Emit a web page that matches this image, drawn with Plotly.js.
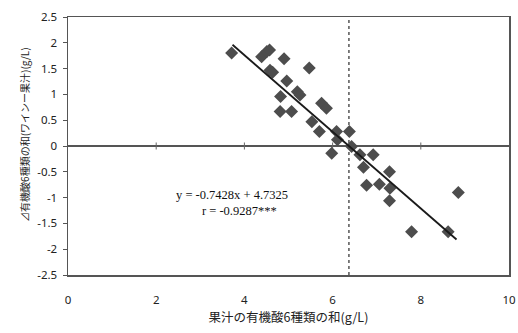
<!DOCTYPE html>
<html>
<head>
<meta charset="utf-8">
<script src="https://cdn.plot.ly/plotly-3.0.1.min.js"></script>
<style>html,body{margin:0;padding:0;background:#fff;}#chart{width:518px;height:333px;}</style>
</head>
<body>
<div id="chart"></div>
<script>
// Data
var juiceAcids = [3.71, 4.39, 4.51, 4.57, 4.90, 5.47, 4.58, 4.64, 4.96, 5.20, 5.26, 4.82, 4.81, 5.07, 5.75, 5.86, 5.53, 5.70, 6.09, 6.38, 6.11, 6.43, 5.98, 6.62, 6.92, 6.70, 7.29, 6.77, 7.06, 7.30, 7.29, 8.85, 7.79, 8.62];
var deltaAcids = [1.80, 1.73, 1.83, 1.86, 1.69, 1.51, 1.47, 1.43, 1.26, 1.05, 0.99, 0.96, 0.67, 0.67, 0.83, 0.73, 0.47, 0.28, 0.28, 0.28, 0.12, -0.01, -0.14, -0.17, -0.17, -0.41, -0.50, -0.76, -0.74, -0.82, -1.06, -0.90, -1.66, -1.66];
var slope = -0.7428;
var intercept = 4.7325;
var fitRangeX = [3.73, 8.81];
var meanX = [6.37, 6.37];
var meanLineY = [-2.5, 2.5];
var zeroTickX = [2, 4, 6, 8];
var zeroTickY = [0, 0, 0, 0];
var xTickVals = [0, 2, 4, 6, 8, 10];
var xTickText = ['0', '2', '4', '6', '8', '10'];
var yTickVals = [-2.5, -2, -1.5, -1, -0.5, 0, 0.5, 1, 1.5, 2, 2.5];
var yTickText = ['-2.5', '-2', '-1.5', '-1', '-0.5', '0', '0.5', '1', '1.5', '2', '2.5'];
var eqText = "y = -0.7428x + 4.7325";
var rText = "r = -0.9287***";
var xTitle = "果汁の有機酸6種類の和(g/L)";
var yTitle = "⊿有機酸6種類の和(ワインー果汁)(g/L)";

var fitY = fitRangeX.map(function(x){ return slope * x + intercept; });

var traces = [
  {x: meanX, y: meanLineY, mode: 'lines', line: {color: '#555', width: 1.5, dash: 'dot'}, hoverinfo: 'skip'},
  {x: zeroTickX, y: zeroTickY, mode: 'markers', marker: {symbol: 'line-ns', size: 5, line: {color: '#666', width: 1}}, hoverinfo: 'skip'},
  {x: juiceAcids, y: deltaAcids, mode: 'markers', marker: {symbol: 'diamond', size: 10, color: '#4d4d4d'}},
  {x: fitRangeX, y: fitY, mode: 'lines', line: {color: '#1a1a1a', width: 1.8}}
];

var layout = {
  width: 518, height: 333,
  margin: {l: 68, r: 9, t: 17, b: 58},
  paper_bgcolor: '#fff', plot_bgcolor: '#fff',
  showlegend: false,
  font: {family: 'Noto Sans, sans-serif', color: '#222'},
  xaxis: {
    range: [0, 10], tickvals: xTickVals, ticktext: xTickText,
    showgrid: false, zeroline: false, showline: true, mirror: true, linecolor: '#555', linewidth: 1.5,
    ticks: '', ticklabelstandoff: 14,
    tickfont: {family: 'Noto Sans, sans-serif', size: 11.5, color: '#222'},
    title: {text: xTitle, font: {family: 'Noto Sans CJK JP, sans-serif', size: 12.5, color: '#222'}, standoff: 5}
  },
  yaxis: {
    range: [-2.5, 2.5], tickvals: yTickVals, ticktext: yTickText,
    showgrid: false, zeroline: true, zerolinecolor: '#555', zerolinewidth: 1.2,
    showline: true, mirror: true, linecolor: '#555', linewidth: 1.5,
    ticks: 'outside', ticklen: 4, tickcolor: '#555', ticklabelstandoff: 3,
    tickfont: {family: 'Noto Sans, sans-serif', size: 11.5, color: '#222'}
  },
  annotations: [
    {xref: 'paper', yref: 'paper', x: -0.0975, y: 0.543, text: yTitle, textangle: -90, showarrow: false,
     xanchor: 'center', yanchor: 'middle',
     font: {family: 'Noto Sans CJK JP, sans-serif', size: 10, color: '#222'}},
    {xref: 'x', yref: 'y', x: 3.71, y: -0.95, text: eqText, showarrow: false,
     font: {family: 'Liberation Serif, serif', size: 12.5, color: '#111'}},
    {xref: 'x', yref: 'y', x: 3.89, y: -1.26, text: rText, showarrow: false,
     font: {family: 'Liberation Serif, serif', size: 12.5, color: '#111'}}
  ]
};

Plotly.newPlot('chart', traces, layout, {displayModeBar: false, staticPlot: true});
</script>
</body>
</html>
